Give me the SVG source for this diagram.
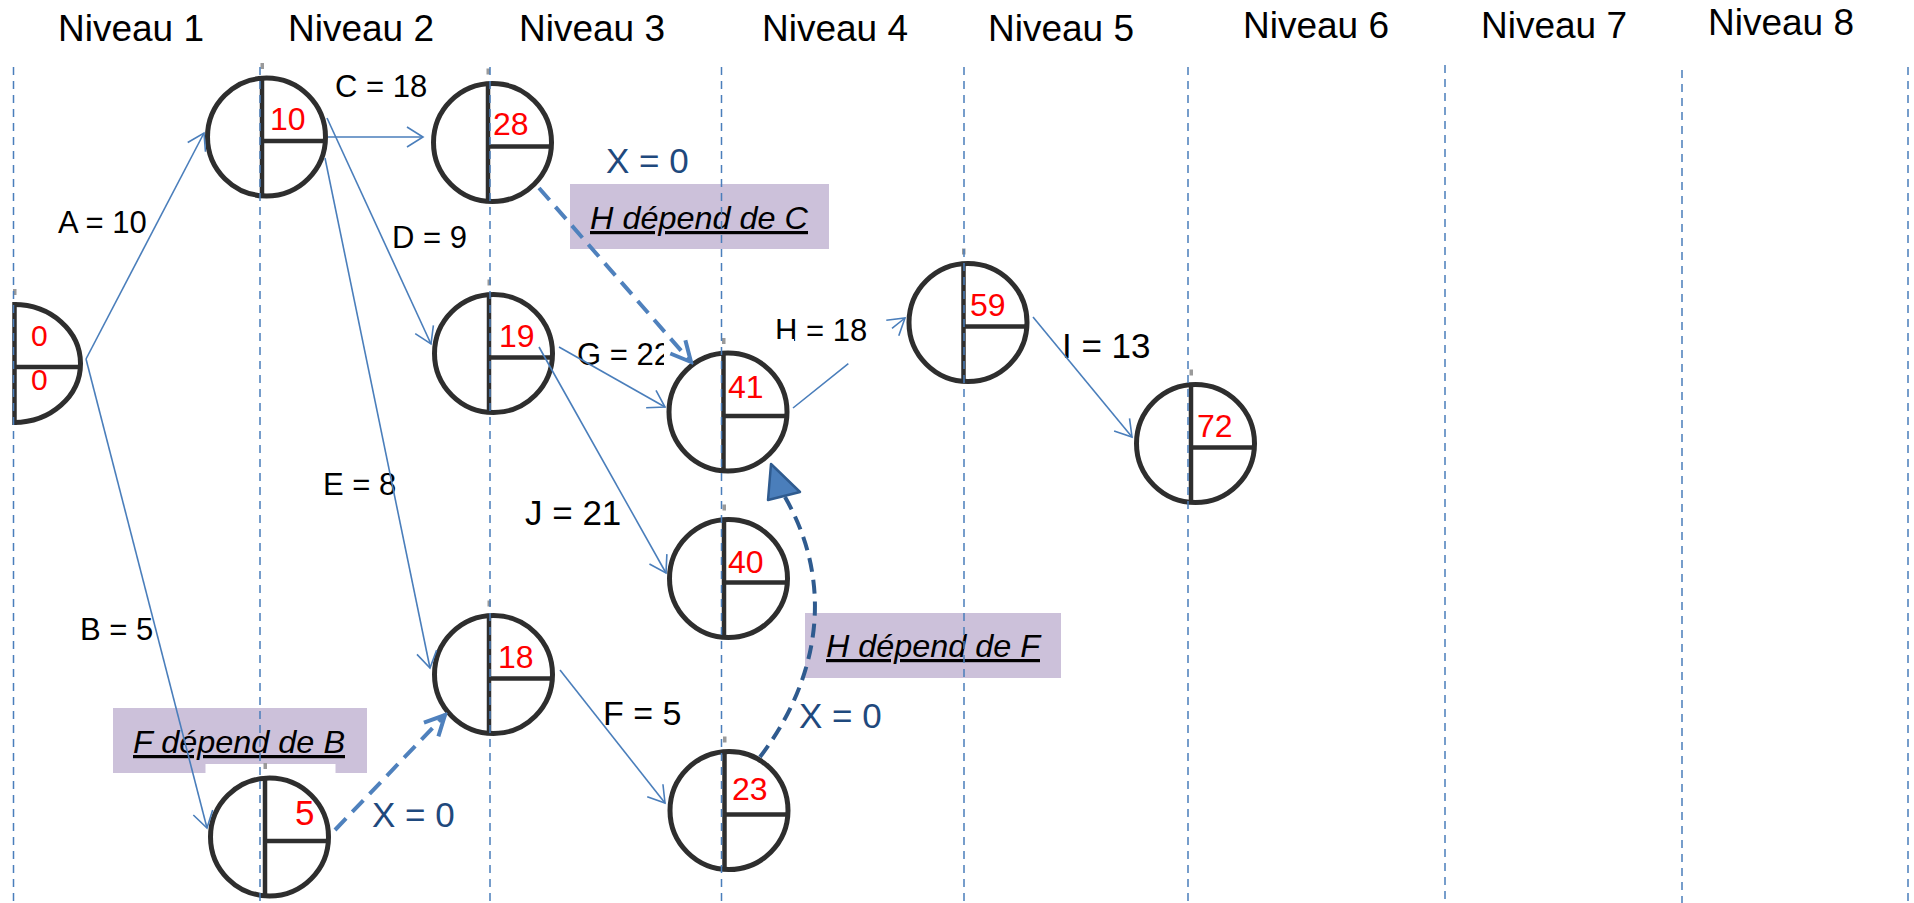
<svg xmlns="http://www.w3.org/2000/svg" xmlns:xlink="http://www.w3.org/1999/xlink" width="1914" height="903" viewBox="0 0 1914 903">
<style>
.hdr{font-family:"Liberation Sans",Arial,sans-serif;font-size:37px;fill:#000}
.lbl{font-family:"Liberation Sans",Arial,sans-serif;font-size:31px;fill:#000}
.lbl2{font-family:"Liberation Sans",Arial,sans-serif;font-size:35px;fill:#000}
.num{font-family:"Liberation Sans",Arial,sans-serif;font-size:32px;fill:#ff0000}
.x0{font-family:"Liberation Sans",Arial,sans-serif;font-size:35px;fill:#1f497d}
.box{fill:#ccc1da}
.boxt{font-family:"Liberation Sans",Arial,sans-serif;font-size:32px;font-style:italic;fill:#000;text-decoration:underline}
.grid{stroke:#4a7ebb;stroke-width:1.5;stroke-dasharray:8 6;fill:none}
.edge{stroke:#4a7ebb;stroke-width:1.6;fill:none;marker-end:url(#arr)}
.dep{stroke:#4f81bd;stroke-width:4;stroke-dasharray:16 9;fill:none;marker-end:url(#arrThick)}
.curve{stroke:#2f5b8f;stroke-width:4;stroke-dasharray:14 8;fill:none}
</style>
<defs>
<filter id="soft" x="-10%" y="-10%" width="120%" height="120%"><feGaussianBlur stdDeviation="0.7"/></filter>
<marker id="arr" viewBox="-20 -12 22 24" refX="0" refY="0" markerWidth="22" markerHeight="24" orient="auto" markerUnits="userSpaceOnUse">
<path d="M-16,-10 L0,0 L-16,10" fill="none" stroke="#4a7ebb" stroke-width="1.6"/>
</marker>
<marker id="arrThick" viewBox="-24 -14 27 28" refX="0" refY="0" markerWidth="27" markerHeight="28" orient="auto" markerUnits="userSpaceOnUse">
<path d="M-20,-10 L0,0 L-20,10" fill="none" stroke="#4f81bd" stroke-width="4" stroke-dasharray="none"/>
</marker>
<g id="nodeShape">
<rect x="-64" y="-73" width="130" height="137" fill="#fff"/>
<g filter="url(#soft)" stroke="#2e2e2e" fill="none">
<rect x="-6" y="-74" width="3.5" height="6" fill="#9a9a9a" stroke="none"/>
<circle r="59" stroke-width="5"/>
<line x1="-4.5" y1="-58.5" x2="-4.5" y2="58.5" stroke-width="4.5"/>
<line x1="-4.5" y1="4" x2="58.5" y2="4" stroke-width="4.5"/>
</g>
</g>
</defs>
<rect width="1914" height="903" fill="#fff"/>
<g id="headers">
<text class="hdr" x="58" y="41">Niveau 1</text>
<text class="hdr" x="288" y="41">Niveau 2</text>
<text class="hdr" x="519" y="41">Niveau 3</text>
<text class="hdr" x="762" y="41">Niveau 4</text>
<text class="hdr" x="988" y="41">Niveau 5</text>
<text class="hdr" x="1243" y="38">Niveau 6</text>
<text class="hdr" x="1481" y="38">Niveau 7</text>
<text class="hdr" x="1708" y="35">Niveau 8</text>
</g>
<g id="notes">
<g id="note-HC">
<rect class="box" x="570" y="184" width="259" height="65"/>
<text class="boxt" x="590" y="229" textLength="218" lengthAdjust="spacingAndGlyphs">H dépend de C</text>
</g>
<g id="note-FB">
<rect class="box" x="113" y="708" width="254" height="65"/>
<text class="boxt" x="133" y="753" textLength="212" lengthAdjust="spacingAndGlyphs">F dépend de B</text>
</g>
<g id="note-HF">
<rect class="box" x="805" y="613" width="256" height="65"/>
<text class="boxt" x="826" y="657" textLength="214" lengthAdjust="spacingAndGlyphs">H dépend de F</text>
</g>
</g>
<g id="edge-labels">
<text class="lbl" x="58" y="233">A = 10</text>
<text class="lbl" x="80" y="640">B = 5</text>
<text class="lbl" x="335" y="97">C = 18</text>
<text class="lbl" x="392" y="248">D = 9</text>
<text class="lbl" x="323" y="495">E = 8</text>
<text class="lbl" x="577" y="365">G = 22</text>
<text class="lbl" x="775" y="341">H = 18</text>
<text class="lbl2" x="1062" y="358">I = 13</text>
<text class="lbl2" x="525" y="525">J = 21</text>
<text class="lbl2" x="603" y="725" style="font-size:34px">F = 5</text>
<text class="x0" x="606" y="173">X = 0</text>
<text class="x0" x="372" y="827">X = 0</text>
<text class="x0" x="799" y="728">X = 0</text>
</g>
<g id="nodes">
<g id="n0">
<rect x="10" y="288" width="78" height="142" fill="#fff"/>
<g filter="url(#soft)" stroke="#2e2e2e" fill="none">
<rect x="13" y="289" width="3.5" height="6" fill="#9a9a9a" stroke="none"/>
<path d="M14,304.5 A66.5,59 0 0 1 14,422.5" stroke-width="5"/>
<line x1="14.5" y1="302" x2="14.5" y2="425" stroke-width="4.5"/>
<line x1="14" y1="367" x2="80" y2="367" stroke-width="4.5"/>
</g>
<text class="num" x="31" y="346" style="font-size:30px">0</text>
<text class="num" x="31" y="390" style="font-size:30px">0</text>
</g>
<g id="n10"><use xlink:href="#nodeShape" x="266.5" y="137"/><text class="num" x="270" y="130">10</text></g>
<g id="n28"><use xlink:href="#nodeShape" x="492.5" y="142.5"/><text class="num" x="493" y="135">28</text></g>
<g id="n19"><use xlink:href="#nodeShape" x="493.5" y="353.5"/><text class="num" x="499" y="347">19</text></g>
<g id="n41"><use xlink:href="#nodeShape" x="728" y="412"/><text class="num" x="728" y="398">41</text></g>
<g id="n40"><use xlink:href="#nodeShape" x="728.5" y="578.5"/><text class="num" x="728" y="573">40</text></g>
<g id="n18"><use xlink:href="#nodeShape" x="493.5" y="674.5"/><text class="num" x="498" y="668">18</text></g>
<g id="n5"><use xlink:href="#nodeShape" x="269.5" y="837"/><text class="num" x="295" y="825" style="font-size:35px">5</text></g>
<g id="n23"><use xlink:href="#nodeShape" x="729" y="810.5"/><text class="num" x="732" y="800">23</text></g>
<g id="n59"><use xlink:href="#nodeShape" x="968" y="322.5"/><text class="num" x="970" y="316">59</text></g>
<g id="n72"><use xlink:href="#nodeShape" x="1195.5" y="443.5"/><text class="num" x="1197" y="437">72</text></g>
</g>
<g id="connectors">
<line id="eA" class="edge" x1="86" y1="359" x2="204" y2="133"/>
<line id="eB" class="edge" x1="86" y1="359" x2="207" y2="828"/>
<line id="eC" class="edge" x1="328" y1="137" x2="423" y2="137"/>
<line id="eD" class="edge" x1="327" y1="118" x2="431" y2="344"/>
<line id="eE" class="edge" x1="325" y1="158" x2="430" y2="668"/>
<line id="eG" class="edge" x1="559" y1="347" x2="665" y2="407"/>
<line id="eJ" class="edge" x1="539" y1="347" x2="666" y2="573"/>
<line id="eH" class="edge" x1="793" y1="408" x2="905" y2="318" stroke-dasharray="71 56 200"/>
<line id="eI" class="edge" x1="1033" y1="317" x2="1132" y2="437"/>
<line id="eF" class="edge" x1="560" y1="670" x2="665" y2="803"/>
<line id="dHC" class="dep" x1="539" y1="188" x2="691" y2="362"/>
<line id="dFB" class="dep" x1="335" y1="830" x2="445" y2="715"/>
<g id="dHF">
<path class="curve" d="M760,757 C815,685 838,590 785,497"/>
<polygon points="771,464 800,492 768,500" fill="#4a7ebb" stroke="#2f5b8f" stroke-width="2.5" stroke-linejoin="round"/>
</g>
</g>
<g id="grid">
<line class="grid" x1="13.5" y1="67" x2="13.5" y2="903"/>
<line class="grid" x1="260" y1="67" x2="260" y2="903"/>
<line class="grid" x1="490" y1="67" x2="490" y2="903"/>
<line class="grid" x1="721.5" y1="67" x2="721.5" y2="903"/>
<line class="grid" x1="964" y1="67" x2="964" y2="903"/>
<line class="grid" x1="1188" y1="67" x2="1188" y2="903"/>
<line class="grid" x1="1445" y1="65" x2="1445" y2="903"/>
<line class="grid" x1="1682" y1="70" x2="1682" y2="903"/>
<line class="grid" x1="1908" y1="67" x2="1908" y2="903"/>
</g>
</svg>
